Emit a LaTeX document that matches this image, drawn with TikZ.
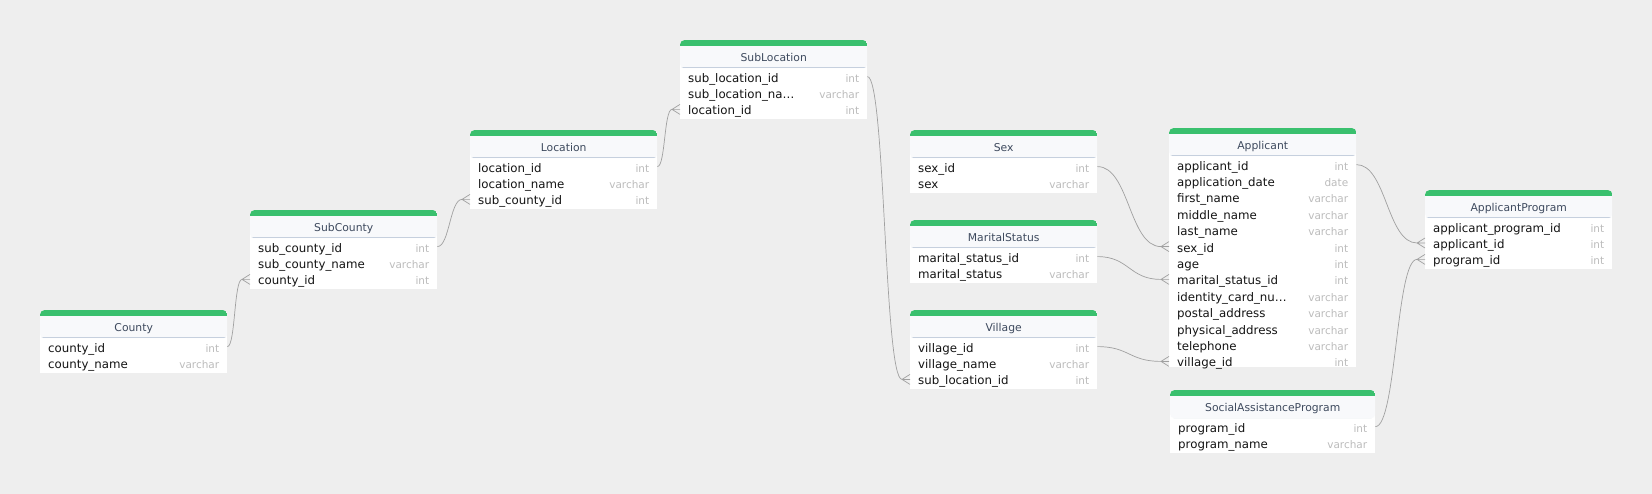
\documentclass[tikz,border=0pt]{standalone}
\usepackage{fontspec}
\setmainfont{DejaVu Sans}
\usetikzlibrary{positioning}

\definecolor{canvas}{RGB}{238,238,238}
\definecolor{keygreen}{RGB}{58,192,110}
\definecolor{headfill}{RGB}{248,249,251}
\definecolor{headtext}{RGB}{62,74,94}
\definecolor{sepline}{RGB}{198,208,222}
\definecolor{rowtext}{RGB}{20,20,20}
\definecolor{typetext}{RGB}{188,188,188}
\definecolor{linkgray}{RGB}{160,160,160}

\newcommand{\coltype}[1]{{\fontsize{10.5}{12}\selectfont\color{typetext}#1}}

\begin{document}
\begin{tikzpicture}[x=1pt, y=-1pt,
    fk/.style={draw=linkgray, line width=0.7pt,
      to path={(\tikztostart) .. controls +(#1,0) and +(-#1,0) .. ([xshift=-8pt]\tikztotarget.west)
        -- ([yshift=5pt]\tikztotarget.west)
        ([xshift=-8pt]\tikztotarget.west) -- (\tikztotarget.west)
        ([xshift=-8pt]\tikztotarget.west) -- ([yshift=-5pt]\tikztotarget.west)}}]
  \tikzstyle{body} = [fill=white, anchor=north west, minimum width=187pt, inner sep=0pt]
  \tikzstyle{head} = [anchor=north west, fill=headfill, rounded corners=4pt, minimum width=187pt,
    minimum height=28pt, inner sep=0pt, text height=15pt, text depth=0pt, text=headtext,
    font=\fontsize{10.8}{12}\selectfont,
    path picture={
      \fill[keygreen, sharp corners] (path picture bounding box.north west) rectangle ([yshift=-6pt]path picture bounding box.north east);
      \draw[sepline, sharp corners] ([yshift=0.5pt]path picture bounding box.south west) -- ([yshift=0.5pt]path picture bounding box.south east);}]
  \tikzstyle{row} = [inner xsep=8pt, inner ysep=0pt, text width=171pt, minimum height=16pt,
    text height=11.5pt, text depth=0.5pt, text=rowtext, font=\fontsize{11.8}{14}\selectfont]

  \fill[canvas] (0,0) rectangle (1652,494);
  \useasboundingbox (0,0) rectangle (1652,494);

  % County
  \node[body, minimum height=49pt] (county) at (40,324) {};
  \node[head] (county-head) at (40,310) {County};
  \node[row, below=0pt of county-head] (county-county_id) {county\_id\hfill\coltype{int}};
  \node[row, below=0pt of county-county_id] (county-county_name) {county\_name\hfill\coltype{varchar}};

  % SubCounty
  \node[body, minimum height=65pt] (subcounty) at (250,224) {};
  \node[head] (subcounty-head) at (250,210) {SubCounty};
  \node[row, below=0pt of subcounty-head] (subcounty-sub_county_id) {sub\_county\_id\hfill\coltype{int}};
  \node[row, below=0pt of subcounty-sub_county_id] (subcounty-sub_county_name) {sub\_county\_name\hfill\coltype{varchar}};
  \node[row, below=0pt of subcounty-sub_county_name] (subcounty-county_id) {county\_id\hfill\coltype{int}};

  % Location
  \node[body, minimum height=65pt] (location) at (470,144) {};
  \node[head] (location-head) at (470,130) {Location};
  \node[row, below=0pt of location-head] (location-location_id) {location\_id\hfill\coltype{int}};
  \node[row, below=0pt of location-location_id] (location-location_name) {location\_name\hfill\coltype{varchar}};
  \node[row, below=0pt of location-location_name] (location-sub_county_id) {sub\_county\_id\hfill\coltype{int}};

  % SubLocation
  \node[body, minimum height=65pt] (sublocation) at (680,54) {};
  \node[head] (sublocation-head) at (680,40) {SubLocation};
  \node[row, below=0pt of sublocation-head] (sublocation-sub_location_id) {sub\_location\_id\hfill\coltype{int}};
  \node[row, below=0pt of sublocation-sub_location_id] (sublocation-sub_location_name) {sub\_location\_na…\hfill\coltype{varchar}};
  \node[row, below=0pt of sublocation-sub_location_name] (sublocation-location_id) {location\_id\hfill\coltype{int}};

  % Sex
  \node[body, minimum height=49pt] (sex) at (910,144) {};
  \node[head] (sex-head) at (910,130) {Sex};
  \node[row, below=0pt of sex-head] (sex-sex_id) {sex\_id\hfill\coltype{int}};
  \node[row, below=0pt of sex-sex_id] (sex-sex) {sex\hfill\coltype{varchar}};

  % MaritalStatus
  \node[body, minimum height=49pt] (marital) at (910,234) {};
  \node[head] (marital-head) at (910,220) {MaritalStatus};
  \node[row, below=0pt of marital-head] (marital-marital_status_id) {marital\_status\_id\hfill\coltype{int}};
  \node[row, below=0pt of marital-marital_status_id] (marital-marital_status) {marital\_status\hfill\coltype{varchar}};

  % Village
  \node[body, minimum height=65pt] (village) at (910,324) {};
  \node[head] (village-head) at (910,310) {Village};
  \node[row, below=0pt of village-head] (village-village_id) {village\_id\hfill\coltype{int}};
  \node[row, below=0pt of village-village_id] (village-village_name) {village\_name\hfill\coltype{varchar}};
  \node[row, below=0pt of village-village_name] (village-sub_location_id) {sub\_location\_id\hfill\coltype{int}};

  % Applicant
  \node[body, minimum height=225pt] (applicant) at (1169,142) {};
  \node[head] (applicant-head) at (1169,128) {Applicant};
  \node[row, below=0pt of applicant-head] (applicant-applicant_id) {applicant\_id\hfill\coltype{int}};
  \node[row, below=0pt of applicant-applicant_id] (applicant-application_date) {application\_date\hfill\coltype{date}};
  \node[row, below=0pt of applicant-application_date] (applicant-first_name) {first\_name\hfill\coltype{varchar}};
  \node[row, below=0pt of applicant-first_name] (applicant-middle_name) {middle\_name\hfill\coltype{varchar}};
  \node[row, below=0pt of applicant-middle_name] (applicant-last_name) {last\_name\hfill\coltype{varchar}};
  \node[row, below=0pt of applicant-last_name] (applicant-sex_id) {sex\_id\hfill\coltype{int}};
  \node[row, below=0pt of applicant-sex_id] (applicant-age) {age\hfill\coltype{int}};
  \node[row, below=0pt of applicant-age] (applicant-marital_status_id) {marital\_status\_id\hfill\coltype{int}};
  \node[row, below=0pt of applicant-marital_status_id] (applicant-identity_card) {identity\_card\_nu…\hfill\coltype{varchar}};
  \node[row, below=0pt of applicant-identity_card] (applicant-postal_address) {postal\_address\hfill\coltype{varchar}};
  \node[row, below=0pt of applicant-postal_address] (applicant-physical_address) {physical\_address\hfill\coltype{varchar}};
  \node[row, below=0pt of applicant-physical_address] (applicant-telephone) {telephone\hfill\coltype{varchar}};
  \node[row, below=0pt of applicant-telephone] (applicant-village_id) {village\_id\hfill\coltype{int}};

  % SocialAssistanceProgram
  \node[body, minimum width=205pt, minimum height=49pt] (program) at (1170,404) {};
  \node[head, minimum width=205pt] (program-head) at (1170,390) {SocialAssistanceProgram};
  \node[row, text width=189pt, below=0pt of program-head] (program-program_id) {program\_id\hfill\coltype{int}};
  \node[row, text width=189pt, below=0pt of program-program_id] (program-program_name) {program\_name\hfill\coltype{varchar}};

  % ApplicantProgram
  \node[body, minimum height=65pt] (appprog) at (1425,204) {};
  \node[head] (appprog-head) at (1425,190) {ApplicantProgram};
  \node[row, below=0pt of appprog-head] (appprog-applicant_program_id) {applicant\_program\_id\hfill\coltype{int}};
  \node[row, below=0pt of appprog-applicant_program_id] (appprog-applicant_id) {applicant\_id\hfill\coltype{int}};
  \node[row, below=0pt of appprog-applicant_id] (appprog-program_id) {program\_id\hfill\coltype{int}};

  % references
  \path
  (county-county_id.east) edge[fk=8] (subcounty-county_id)
  (subcounty-sub_county_id.east) edge[fk=12] (location-sub_county_id)
  (location-location_id.east) edge[fk=8] (sublocation-location_id)
  (sublocation-sub_location_id.east) edge[fk=18] (village-sub_location_id)
  (sex-sex_id.east) edge[fk=32] (applicant-sex_id)
  (marital-marital_status_id.east) edge[fk=32] (applicant-marital_status_id)
  (village-village_id.east) edge[fk=32] (applicant-village_id)
  (applicant-applicant_id.east) edge[fk=30] (appprog-applicant_id)
  (program-program_id.east) edge[fk=21] (appprog-program_id)
  ;
\end{tikzpicture}
\end{document}
